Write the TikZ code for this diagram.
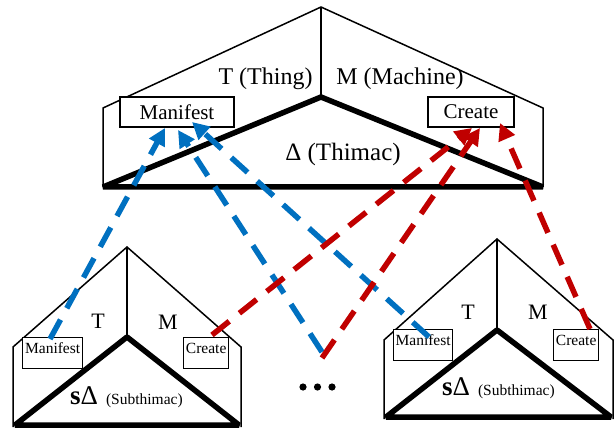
\documentclass[tikz,border=0pt]{standalone}
\usepackage{fontspec}
\setmainfont{Liberation Serif}
\usetikzlibrary{arrows.meta}
\definecolor{cblue}{HTML}{0070C0}
\definecolor{cred}{HTML}{C00000}
\begin{document}
\begin{tikzpicture}[x=1pt,y=-1pt,
  thinline/.style={line width=1.5pt, line join=miter},
  thickline/.style={line width=5.5pt, line join=bevel},
  bigbox/.style={draw, line width=1.5pt, fill=white, inner sep=0pt, minimum width=#1, minimum height=30pt, font=\fontsize{21}{24}\selectfont},
  smallbox/.style={draw, line width=1.3pt, fill=white, inner sep=0pt, minimum width=#1, text height=16pt, text depth=15pt, anchor=north west, font=\fontsize{15.5}{18}\selectfont},
  biglabel/.style={inner sep=0pt, font=\fontsize{24}{28}\selectfont},
  midlabel/.style={inner sep=0pt, font=\fontsize{22}{26}\selectfont},
  dashlink/.style={line width=5.5pt, dash pattern=on 22pt off 13pt, -{Triangle[length=17pt,width=17pt]}},
  bluelink/.style={dashlink, cblue},
  redlink/.style={dashlink, cred}]
\useasboundingbox (0,0) rectangle (615,430);

% ---- top Thimac ----
\draw[thinline] (103,187) -- (103,108) -- (321,7) -- (543,108) -- (543,187);
\draw[thinline] (321,7) -- (321,97);
\draw[thickline] (103,187) -- (321,97) -- (543,187) -- cycle;
\node[biglabel] (tthing) at (265.5,79) {T (Thing)};
\node[biglabel] (tmach) at (400,79) {M (Machine)};
\node[inner sep=0pt, font=\fontsize{25}{29}\selectfont] (tthimac) at (343,154) {Δ (Thimac)};
\node[bigbox=114pt] (tman) at (177,112) {Manifest};
\node[bigbox=86pt] (tcre) at (471,112) {Create};

% ---- bottom-left Subthimac ----
\draw[thinline] (13,427) -- (13,347) -- (127,247) -- (241,347) -- (241,427);
\draw[thinline] (127,247) -- (127,337);
\draw[thickline] (15,425) -- (127,337) -- (239,425) -- cycle;
\node[midlabel] (lT) at (98,321) {T};
\node[midlabel] (lM) at (168,322) {M};
\node[inner sep=0pt, anchor=base west] (lsub) at (70,404)
  {{\fontsize{27}{30}\selectfont\textbf{s}Δ}\hspace{8pt}{\fontsize{15.5}{18}\selectfont(Subthimac)}};
\node[smallbox=60pt] (lman) at (22,337) {Manifest};
\node[smallbox=45pt] (lcre) at (183,337) {Create};

% ---- bottom-right Subthimac ----
\draw[thinline] (384,419) -- (384,340) -- (497,239) -- (613,340) -- (613,419);
\draw[thinline] (497,239) -- (497,330);
\draw[thickline] (386,417) -- (497,330) -- (611,417) -- cycle;
\node[midlabel] (rT) at (468,312) {T};
\node[midlabel] (rM) at (538,312) {M};
\node[inner sep=0pt, anchor=base west] (rsub) at (442,395)
  {{\fontsize{27}{30}\selectfont\textbf{s}Δ}\hspace{8pt}{\fontsize{15.5}{18}\selectfont(Subthimac)}};
\node[smallbox=59pt] (rman) at (393,329) {Manifest};
\node[smallbox=45pt] (rcre) at (553,329) {Create};

% ---- dots ----
\fill (303,387) circle (3.6pt);
\fill (317.5,387) circle (3.6pt);
\fill (332,387) circle (3.6pt);

% ---- connector end points ----
\coordinate (a0) at (50,339);   \coordinate (a1) at (165,128);
\coordinate (b0) at (322,352);  \coordinate (b1) at (178,130);
\coordinate (c0) at (429,337);  \coordinate (c1) at (192,122);
\coordinate (d0) at (212,335);  \coordinate (d1) at (472,128);
\coordinate (e0) at (322,358);  \coordinate (e1) at (480,128);
\coordinate (f0) at (590,329);  \coordinate (f1) at (500,123);

\draw[bluelink] (a0) -- (a1);
\draw[bluelink] (b0) -- (b1);
\draw[bluelink] (c0) -- (c1);
\draw[redlink] (d0) -- (d1);
\draw[redlink] (e0) -- (e1);
\draw[redlink] (f0) -- (f1);
\end{tikzpicture}
\end{document}
